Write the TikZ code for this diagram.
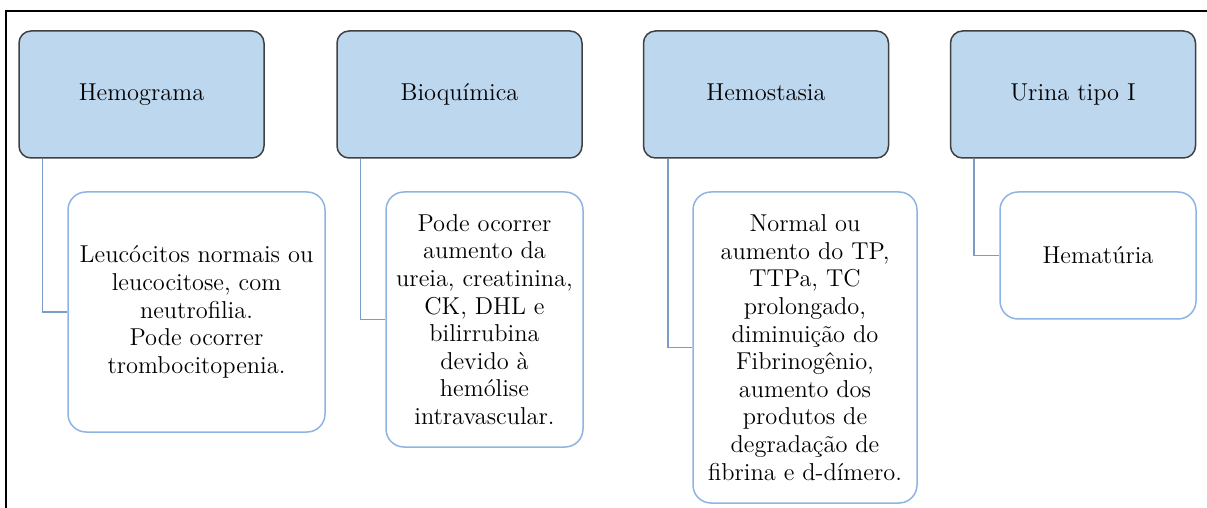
\documentclass[tikz,border=0pt]{standalone}
\definecolor{headfill}{RGB}{189,215,238}
\definecolor{headline}{RGB}{64,64,64}
\definecolor{resline}{RGB}{141,180,226}
\definecolor{linkline}{RGB}{122,156,198}
\tikzset{
  head/.style={draw=headline, line width=0.75pt, fill=headfill,
    rounded corners=6pt, minimum width=122.5pt, minimum height=63.5pt,
    inner sep=0pt, text height=8.5pt, text depth=2.5pt},
  result/.style={draw=resline, line width=0.75pt, fill=white,
    rounded corners=9pt, align=center, inner sep=0pt},
  link/.style={draw=linkline, line width=0.75pt},
  chart/.style={
    x=0.5pt,
    y=-0.5pt,
    font={\rmfamily\fontsize{12.2}{13.8}\selectfont},
  },
}
\begin{document}
\begin{tikzpicture}[chart]
    \useasboundingbox (0,0) rectangle (1207,508);
    \draw [line width=1pt] (6,508) -- (6,11) -- (1207,11);

    \node [head] (hemo) at (141.5,94.5) {Hemograma};
    \node [head] (bioq) at (459.5,94.5) {Bioquímica};
    \node [head] (hemost) at (766,94.5) {Hemostasia};
    \node [head] (urina) at (1073,94.5) {Urina tipo I};

    \node [result, minimum width=128.5pt, minimum height=120pt]
      (hemores) at (196.5,312) {Leucócitos normais ou\\ leucocitose, com\\ neutrofilia.\\ Pode ocorrer\\ trombocitopenia.};
    \node [result, minimum width=98.5pt, minimum height=127.5pt]
      (bioqres) at (484.5,319.5) {Pode ocorrer\\ aumento da\\ ureia, creatinina,\\ CK, DHL e\\ bilirrubina\\ devido à\\ hemólise\\ intravascular.};
    \node [result, minimum width=112pt, minimum height=155.5pt]
      (hemostres) at (805,347.5) {Normal ou\\ aumento do TP,\\ TTPa, TC\\ prolongado,\\ diminuição do\\ Fibrinogênio,\\ aumento dos\\ produtos de\\ degradação de\\ fibrina e d-dímero.};
    \node [result, minimum width=98pt, minimum height=63.5pt]
      (urinares) at (1098,255.5) {Hematúria};

    \draw [link] ([xshift=12pt]hemo.south west) |- (hemores.west);
    \draw [link] ([xshift=12pt]bioq.south west) |- (bioqres.west);
    \draw [link] ([xshift=12.5pt]hemost.south west) |- (hemostres.west);
    \draw [link] ([xshift=12pt]urina.south west) |- (urinares.west);
\end{tikzpicture}
\end{document}
